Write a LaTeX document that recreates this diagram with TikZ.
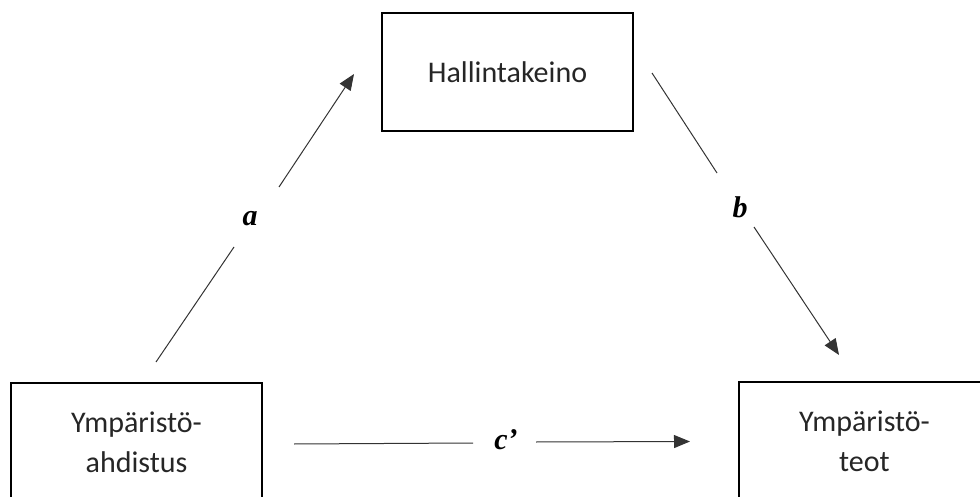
\documentclass[tikz,border=0pt]{standalone}
\usepackage{fontspec}
\setmainfont{Carlito}
\newfontfamily\labfont{Liberation Serif}
\usetikzlibrary{arrows.meta}
\tikzset{
  boxnode/.style={draw=black, line width=2pt, minimum width=251pt, minimum height=118pt,
    inner sep=0pt, align=center, font=\fontsize{30}{40}\selectfont, text=black!85},
  lbl/.style={font=\labfont\bfseries\itshape\fontsize{30}{36}\selectfont, inner sep=0pt},
  conn/.style={draw=black!80, line width=1pt},
  arr/.style={conn, -{Triangle[length=16pt,width=13pt]}}
}
\begin{document}
\begin{tikzpicture}[x=1pt,y=-1pt]
\useasboundingbox (0,0) rectangle (980,497);
\clip (0,0) rectangle (980,497);
\node[boxnode] (hk) at (507.5,72) {Hallintakeino};
\node[boxnode] (ya) at (136.5,442) {Ympäristö-\\ahdistus};
\node[boxnode, line width=2.4pt] (yt) at (864.5,441) {Ympäristö-\\teot};
% labels
\node[lbl] (la) at (250,219) {a};
\node[lbl] (lb) at (740,207) {b};
\node[lbl] (lc) at (506,440) {c’};
% connector coordinates
\coordinate (a0) at (156,362);
\coordinate (a1) at (234,247);
\coordinate (a2) at (279,187);
\coordinate (a3) at (354,74);
\coordinate (b0) at (652,73);
\coordinate (b1) at (717,173);
\coordinate (b2) at (754,227);
\coordinate (b3) at (839,355);
\coordinate (c0) at (294,444);
\coordinate (c1) at (473,443);
\coordinate (c2) at (536,442);
\coordinate (c3) at (690,441.5);
\draw[conn] (a0) -- (a1);
\draw[arr] (a2) -- (a3);
\draw[conn] (b0) -- (b1);
\draw[arr] (b2) -- (b3);
\draw[conn] (c0) -- (c1);
\draw[arr] (c2) -- (c3);
\end{tikzpicture}
\end{document}
